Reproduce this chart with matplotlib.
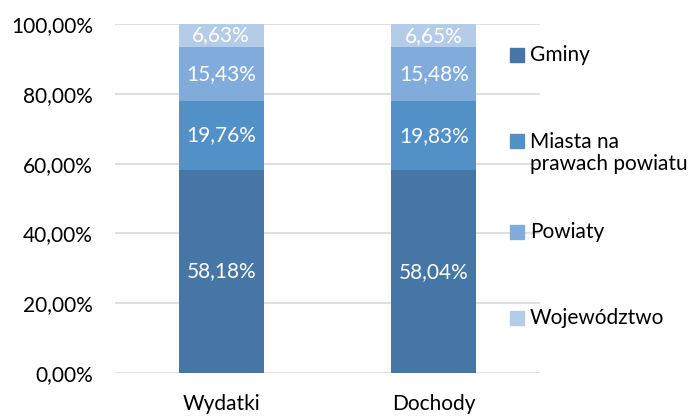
import matplotlib
matplotlib.use("Agg")
import matplotlib.pyplot as plt
from matplotlib.patches import Rectangle

categories = ["Wydatki", "Dochody"]
series_names = ["Gminy", "Miasta na\nprawach powiatu", "Powiaty", "Województwo"]
gminy = [58.18, 58.04]
miasta = [19.76, 19.83]
powiaty = [15.43, 15.48]
wojewodztwo = [6.63, 6.65]
yticks = [0, 20, 40, 60, 80, 100]

series = [gminy, miasta, powiaty, wojewodztwo]
colors = ["#4676A6", "#5290C8", "#80ABDA", "#B5CCE9"]

plt.rcParams['font.family'] = ['Lato', 'DejaVu Sans']
FS = 15

fig = plt.figure(figsize=(6.97, 4.16), dpi=100)
W, H = 697, 416
ax = fig.add_axes([115 / W, 1 - 373 / H, (540 - 115) / W, (373 - 24) / H])

x = list(range(len(categories)))
bottom = [0.0] * len(categories)
for vals, col in zip(series, colors):
    ax.bar(x, vals, width=0.4, bottom=bottom, color=col, zorder=3)
    for xi, v, b in zip(x, vals, bottom):
        ax.text(xi, b + v / 2, f"{v:.2f}%".replace(".", ","), ha="center", va="center",
                color="white", fontsize=FS, zorder=4)
    bottom = [b + v for b, v in zip(bottom, vals)]

ax.set_xlim(-0.5, 1.5)
ax.set_ylim(0, 100)
ax.set_yticks(yticks)
ax.set_yticklabels([f"{t:.2f}%".replace(".", ",") for t in yticks], fontsize=FS)
ax.set_xticks(x)
ax.set_xticklabels(categories, fontsize=FS)
ax.tick_params(axis="both", length=0)
ax.tick_params(axis="x", pad=15)
ax.tick_params(axis="y", pad=16)
ax.grid(axis="y", color="#D9D9D9", linewidth=1.2, zorder=0)
for s in ax.spines.values():
    s.set_visible(False)

# legend
leg_y = [55, 141, 232, 318]
for name, col, yy in zip(series_names, colors, leg_y):
    fig.patches.append(Rectangle((510 / W, 1 - (yy + 7) / H), 14 / W, 14 / H,
                                 transform=fig.transFigure, color=col, figure=fig))
    if "\n" in name:
        fig.text(530 / W, 1 - (yy - 9) / H, name, fontsize=FS, va="top", ha="left",
                 linespacing=1.1)
    else:
        fig.text(530 / W, 1 - yy / H, name, fontsize=FS, va="center", ha="left")

fig.savefig("out.png", dpi=100)
